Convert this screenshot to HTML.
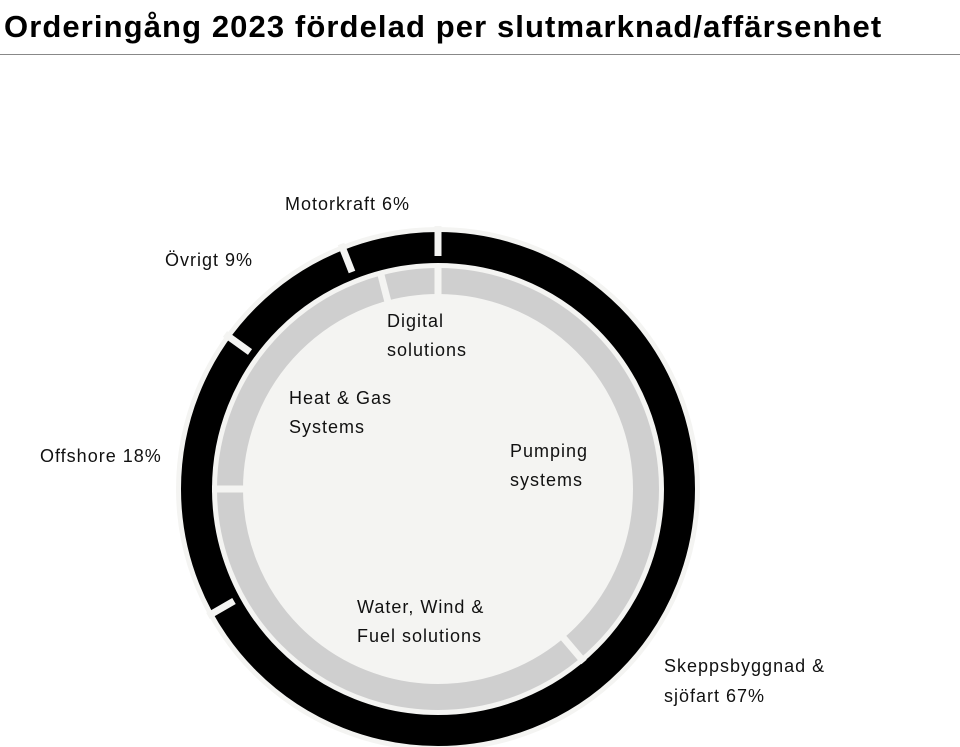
<!DOCTYPE html>
<html><head><meta charset="utf-8"><style>
body{margin:0;background:#fff;width:960px;height:747px;overflow:hidden;font-family:"Liberation Sans",sans-serif}
.t{position:absolute;left:4px;top:9px;font-size:31px;font-weight:bold;color:#000;letter-spacing:1.1px}
.hr{position:absolute;left:0;top:54px;width:960px;height:1px;background:#888}
</style></head><body>
<div class="t">Orderingång 2023 fördelad per slutmarknad/affärsenhet</div>
<div class="hr"></div>
<svg width="960" height="747" style="position:absolute;left:0;top:0" font-family="Liberation Sans, sans-serif" font-size="18" letter-spacing="1" fill="#111">
<circle cx="438" cy="489" r="262" fill="#f4f4f2"/>
<circle cx="438" cy="489" r="241.5" fill="none" stroke="#000" stroke-width="31"/>
<circle cx="438" cy="489" r="208" fill="none" stroke="#cfcfcf" stroke-width="26"/>
<g stroke="#f4f4f2" stroke-width="7">
<line x1="438" y1="256" x2="438" y2="226"/>
<line x1="234" y1="601" x2="208" y2="616"/>
<line x1="250" y1="352" x2="225" y2="334"/>
<line x1="352" y1="272" x2="341" y2="244"/>
<line x1="438" y1="298" x2="438" y2="264"/>
<line x1="561" y1="635" x2="584" y2="662"/>
<line x1="248" y1="489" x2="212" y2="489"/>
<line x1="389" y1="306" x2="380" y2="271"/>
</g>
<text x="285" y="210">Motorkraft 6%</text>
<text x="165" y="266">Övrigt 9%</text>
<text x="40" y="462">Offshore 18%</text>
<text x="664" y="672">Skeppsbyggnad &amp;</text>
<text x="664" y="702">sjöfart 67%</text>
<text x="387" y="327">Digital</text>
<text x="387" y="356">solutions</text>
<text x="289" y="404">Heat &amp; Gas</text>
<text x="289" y="433">Systems</text>
<text x="510" y="457">Pumping</text>
<text x="510" y="486">systems</text>
<text x="357" y="613">Water, Wind &amp;</text>
<text x="357" y="642">Fuel solutions</text>
</svg>
</body></html>
